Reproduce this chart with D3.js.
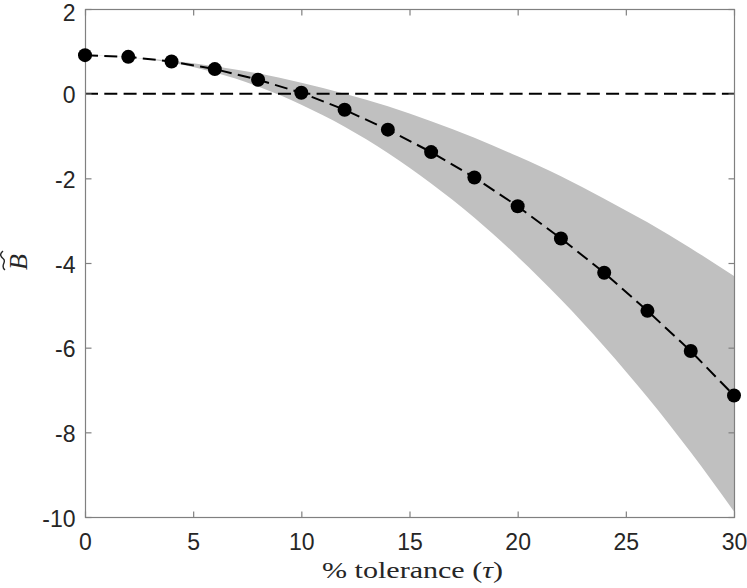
<!DOCTYPE html>
<html>
<head>
<meta charset="utf-8">
<script src="https://cdn.jsdelivr.net/npm/d3@7"></script>
<style>
  html, body { margin: 0; padding: 0; background: #fff; }
  svg { display: block; }
</style>
</head>
<body>
<svg id="chart" width="747" height="588"></svg>
<script>
// ---- data ----
const tolerance = [0, 2, 4, 6, 8, 10, 12, 14, 16, 18, 20, 22, 24, 26, 28, 30];
const meanB     = [0.91, 0.87, 0.76, 0.58, 0.33, 0.02, -0.38, -0.85, -1.38, -1.98, -2.66, -3.42, -4.23, -5.13, -6.08, -7.13];
const upperB    = [0.91, 0.86, 0.78, 0.65, 0.48, 0.26, 0.00, -0.30, -0.65, -1.04, -1.48, -1.95, -2.48, -3.04, -3.65, -4.31];
const lowerB    = [0.91, 0.86, 0.73, 0.50, 0.17, -0.26, -0.78, -1.40, -2.12, -2.93, -3.85, -4.86, -5.97, -7.17, -8.47, -9.87];
const xTicks = [0, 5, 10, 15, 20, 25, 30];
const yTicks = [-10, -8, -6, -4, -2, 0, 2];
const xLabel = "% tolerance (";
const xLabelSym = "τ";

(function () {
// ---- layout ----
const mL = 85, mR = 734, mT = 9, mB = 517;
const svg = d3.select("#chart");
const x = d3.scaleLinear().domain([0, 30]).range([mL, mR]);
const y = d3.scaleLinear().domain([-10, 2]).range([mB, mT]);

const pts = tolerance.map((t, i) => ({t, m: meanB[i], u: upperB[i], l: lowerB[i]}));

// band
const area = d3.area()
  .x(d => x(d.t)).y0(d => y(d.l)).y1(d => y(d.u))
  .curve(d3.curveMonotoneX);
svg.append("path").datum(pts).attr("d", area)
  .attr("fill", "#c0c0c0").attr("stroke", "none");

// zero line
svg.append("line")
  .attr("x1", x(0)).attr("x2", x(30)).attr("y1", y(0)).attr("y2", y(0))
  .attr("stroke", "#000").attr("stroke-width", 2).attr("stroke-dasharray", "13,6.3");

// mean line
const line = d3.line().x(d => x(d.t)).y(d => y(d.m));
svg.append("path").datum(pts).attr("d", line)
  .attr("fill", "none").attr("stroke", "#000").attr("stroke-width", 2)
  .attr("stroke-dasharray", "13,6.3");

// axes box and ticks
const axisColor = "#808080";
const tickLen = 6;
const g = svg.append("g");
g.append("rect").attr("x", mL + 0.5).attr("y", mT + 0.5)
  .attr("width", mR - mL).attr("height", mB - mT)
  .attr("fill", "none").attr("stroke", axisColor).attr("stroke-width", 1.2);

const fmt = d => String(d);
const xAxisB = d3.axisBottom(x).tickValues(xTicks).tickSizeInner(-tickLen).tickSizeOuter(0).tickFormat(fmt);
const xAxisT = d3.axisTop(x).tickValues(xTicks).tickSizeInner(-tickLen).tickSizeOuter(0).tickFormat("");
const yAxisL = d3.axisLeft(y).tickValues(yTicks).tickSizeInner(-tickLen).tickSizeOuter(0).tickFormat(fmt);
const yAxisR = d3.axisRight(y).tickValues(yTicks).tickSizeInner(-tickLen).tickSizeOuter(0).tickFormat("");

function styleAxis(sel) {
  sel.select(".domain").remove();
  sel.selectAll(".tick line").attr("stroke", axisColor).attr("stroke-width", 1.2);
  sel.selectAll(".tick text")
    .attr("fill", "#262626")
    .style("font-family", "'Liberation Sans', Arial, Helvetica, sans-serif")
    .style("font-size", "23px");
}
g.append("g").attr("transform", `translate(0,${mB + 0.5})`).call(xAxisB).call(styleAxis)
  .selectAll(".tick text").attr("y", 16).attr("dy", "0.71em");
g.append("g").attr("transform", `translate(0,${mT + 0.5})`).call(xAxisT).call(styleAxis);
g.append("g").attr("transform", `translate(${mL + 0.5},0)`).call(yAxisL).call(styleAxis)
  .selectAll(".tick text").attr("x", -10)
  .attr("dy", d => d === 2 ? "0.5em" : "0.4em");
g.append("g").attr("transform", `translate(${mR + 0.5},0)`).call(yAxisR).call(styleAxis);

// markers
svg.append("g").selectAll("circle").data(pts).join("circle")
  .attr("cx", d => x(d.t)).attr("cy", d => y(d.m)).attr("r", 7)
  .attr("fill", "#000");

// x label
const xl = svg.append("text")
  .attr("x", (mL + mR) / 2 + 3).attr("y", 578)
  .attr("text-anchor", "middle")
  .attr("textLength", 181).attr("lengthAdjust", "spacingAndGlyphs")
  .style("font-family", "'Liberation Serif', 'DejaVu Serif', serif")
  .style("font-size", "24px").attr("fill", "#262626");
xl.append("tspan").text(xLabel);
xl.append("tspan").style("font-style", "italic").text(xLabelSym);
xl.append("tspan").text(")");

// y label (B with tilde), rotated
const yl = svg.append("g").attr("transform", "translate(27,262) rotate(-90)");
yl.append("text").attr("x", 0).attr("y", 0).attr("text-anchor", "middle")
  .style("font-family", "'Liberation Serif', 'DejaVu Serif', serif")
  .style("font-size", "26px").style("font-style", "italic").attr("fill", "#262626")
  .text("B");
yl.append("path")
  .attr("d", "M -8 -22 C -4 -27.5, 0 -20, 3 -23.5 S 8 -27.5, 11 -24")
  .attr("fill", "none").attr("stroke", "#262626").attr("stroke-width", 1.4);
})();
</script>
</body>
</html>
